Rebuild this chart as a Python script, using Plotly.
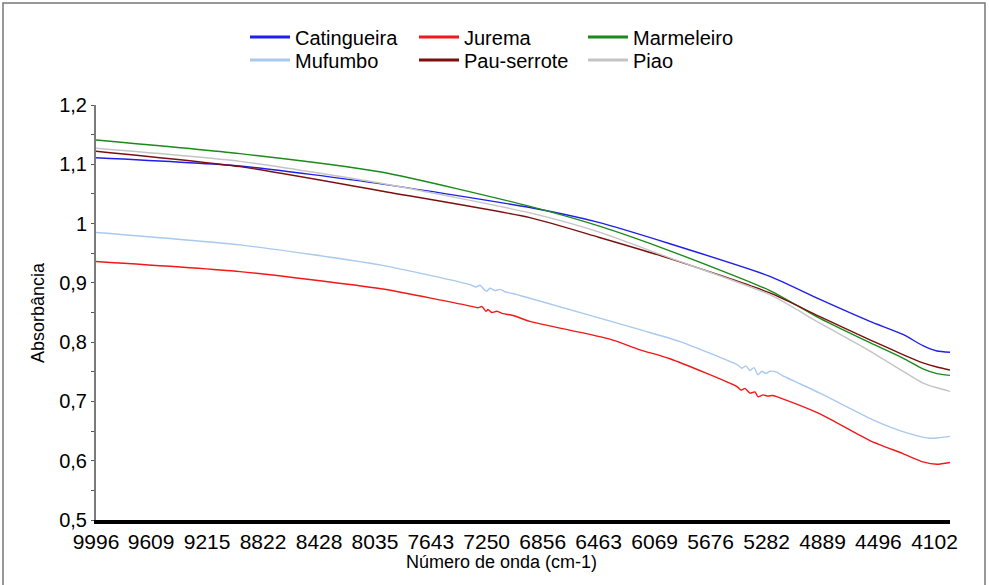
import plotly.graph_objects as go

# Wavenumber grid (cm-1) shared by the four smooth spectra
wn_smooth = [9996, 8984, 7992, 6946, 6463, 5962, 5259, 4907, 4556, 4324, 4183, 4085, 3993]
catingueira = [1.111, 1.097, 1.067, 1.027, 1.002, 0.966, 0.911, 0.872, 0.835, 0.813, 0.794, 0.785, 0.783]
marmeleiro = [1.141, 1.118, 1.087, 1.029, 0.996, 0.954, 0.887, 0.840, 0.799, 0.773, 0.755, 0.747, 0.744]
pau_serrote = [1.122, 1.096, 1.055, 1.010, 0.977, 0.941, 0.883, 0.843, 0.804, 0.779, 0.765, 0.758, 0.753]
piao = [1.127, 1.105, 1.068, 1.018, 0.986, 0.942, 0.880, 0.832, 0.785, 0.751, 0.731, 0.723, 0.717]

# Mufumbo spectrum (noisy around 7250 and 5300 cm-1)
wn_mufumbo = [9996, 8984, 7992, 7367, 7325, 7297, 7269, 7248, 7227, 7192, 7156, 7121, 7065,
              6946, 6172, 5891, 5490, 5455, 5427, 5399, 5371, 5343, 5315, 5287, 5259, 5209,
              5174, 4907, 4535, 4296, 4134, 4064, 3993]
mufumbo = [0.985, 0.964, 0.930, 0.897, 0.893, 0.896, 0.889, 0.886, 0.891, 0.887, 0.889, 0.885, 0.882,
           0.874, 0.821, 0.801, 0.762, 0.756, 0.760, 0.752, 0.757, 0.745, 0.751, 0.747, 0.751, 0.749,
           0.744, 0.714, 0.669, 0.647, 0.638, 0.639, 0.641]

# Jurema spectrum
wn_jurema = [9996, 8984, 7992, 7346, 7311, 7283, 7255, 7241, 7213, 7178, 7135, 7065, 6946,
             6383, 6172, 5962, 5490, 5462, 5434, 5399, 5364, 5343, 5308, 5273, 5238, 5188,
             4907, 4556, 4324, 4183, 4085, 3993]
jurema = [0.936, 0.919, 0.890, 0.860, 0.858, 0.860, 0.852, 0.855, 0.850, 0.852, 0.848, 0.845, 0.835,
          0.805, 0.787, 0.772, 0.725, 0.719, 0.722, 0.714, 0.716, 0.708, 0.711, 0.709, 0.710, 0.706,
          0.679, 0.634, 0.612, 0.598, 0.594, 0.597]

x_tickvals = [9996, 9609, 9215, 8822, 8428, 8035, 7643, 7250, 6856, 6463, 6069, 5676, 5282, 4889, 4496, 4102]
y_tickvals = [0.5, 0.6, 0.7, 0.8, 0.9, 1.0, 1.1, 1.2]
y_ticktext = ["0,5", "0,6", "0,7", "0,8", "0,9", "1", "1,1", "1,2"]

series = [
    ("Catingueira", wn_smooth, catingueira, "#1f1fe8", "legend"),
    ("Jurema", wn_jurema, jurema, "#f01818", "legend"),
    ("Marmeleiro", wn_smooth, marmeleiro, "#1a8a1a", "legend"),
    ("Mufumbo", wn_mufumbo, mufumbo, "#a9c9ee", "legend2"),
    ("Pau-serrote", wn_smooth, pau_serrote, "#7a0f0f", "legend2"),
    ("Piao", wn_smooth, piao, "#c4c4c4", "legend2"),
]

FONT = "Liberation Sans, Arial, sans-serif"
fig = go.Figure()

for name, xs, ys, color, leg in series:
    fig.add_trace(go.Scatter(
        x=xs, y=ys, mode="lines", name=name, showlegend=False,
        line=dict(color=color, width=1.4, shape="spline", smoothing=0.6),
    ))
# legend entries with a heavier stroke
for name, xs, ys, color, leg in series:
    fig.add_trace(go.Scatter(
        x=[None], y=[None], mode="lines", name=name, legend=leg,
        line=dict(color=color, width=3),
    ))

L, R, T, B = 96, 39, 105, 65
W, H = 989, 585
pw, ph = W - L - R, H - T - B


def px_x(px):
    return (px - L) / pw


def px_y(py):
    return (H - B - py) / ph


legend_common = dict(
    orientation="h", xanchor="left", yanchor="middle",
    font=dict(family=FONT, size=20, color="black"),
    bgcolor="rgba(0,0,0,0)", entrywidth=114, entrywidthmode="pixels",
    itemwidth=40, tracegroupgap=0,
)

fig.update_layout(
    width=W, height=H,
    margin=dict(l=L, r=R, t=T, b=B),
    paper_bgcolor="white", plot_bgcolor="white",
    font=dict(family=FONT, color="black"),
    legend=dict(x=px_x(245), y=px_y(37), **legend_common),
    legend2=dict(x=px_x(245), y=px_y(60), **legend_common),
    xaxis=dict(
        range=[9996, 3993], tickvals=x_tickvals, ticktext=[str(v) for v in x_tickvals],
        showgrid=False, zeroline=False, showline=True, linecolor="black", linewidth=4,
        ticks="", tickfont=dict(family=FONT, size=21, color="black"),
    ),
    yaxis=dict(
        range=[0.5, 1.2], tickvals=y_tickvals, ticktext=y_ticktext,
        showgrid=False, zeroline=False, showline=True, linecolor="#7a7a7a", linewidth=2,
        ticks="outside", ticklen=3, tickwidth=1, tickcolor="#555555",
        minor=dict(dtick=0.05, ticks="outside", ticklen=3, tickwidth=1, tickcolor="#555555", showgrid=False),
        tickfont=dict(family=FONT, size=20, color="black"),
    ),
    annotations=[
        dict(text="Número de onda (cm-1)", x=px_x(501), y=px_y(562), xref="paper", yref="paper",
             showarrow=False, font=dict(family=FONT, size=18, color="black"),
             xanchor="center", yanchor="middle"),
        dict(text="Absorbância", x=px_x(38), y=px_y(312), xref="paper", yref="paper",
             showarrow=False, textangle=-90, font=dict(family=FONT, size=18, color="black"),
             xanchor="center", yanchor="middle"),
    ],
    shapes=[
        dict(type="rect", xref="paper", yref="paper",
             x0=px_x(3), x1=px_x(985), y0=px_y(590), y1=px_y(3),
             line=dict(color="#777777", width=1.5), fillcolor="rgba(0,0,0,0)", layer="below"),
    ],
)

fig.write_html("out.html")
